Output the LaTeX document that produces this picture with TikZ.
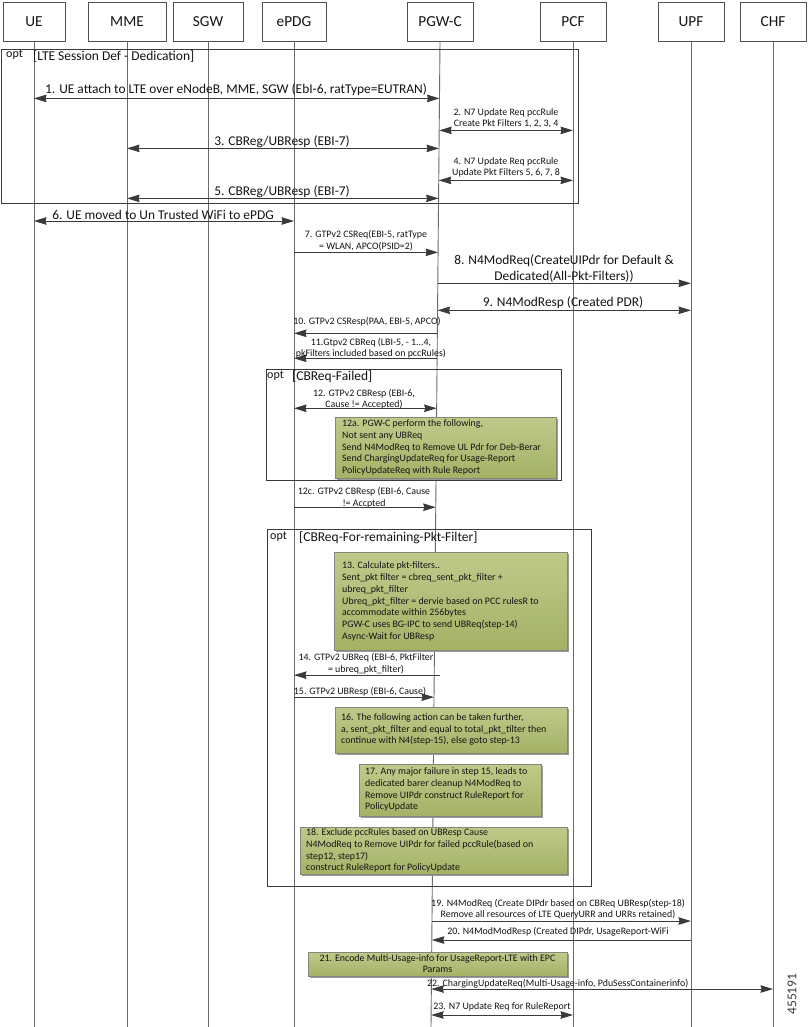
\documentclass[tikz,border=0pt]{standalone}
\usepackage{fontspec}
\setmainfont{Carlito}
\usetikzlibrary{arrows.meta,calc}
\definecolor{arrc}{HTML}{3A3A3A}
\definecolor{lifec}{HTML}{6A6A6A}
\definecolor{framec}{HTML}{3A3A3A}
\definecolor{boxc}{HTML}{505050}
\definecolor{notetop}{RGB}{191,202,138}
\definecolor{notebot}{RGB}{164,178,102}
\definecolor{notedraw}{HTML}{85857A}
\definecolor{noteshadow}{HTML}{9A9A9A}
\definecolor{txtc}{HTML}{141414}
\tikzset{
  actor/.style={draw=boxc, line width=0.9pt, fill=white, minimum height=39pt, inner sep=0pt, font=\fontsize{15.3}{18}\selectfont, text=txtc},
  life/.style={draw=lifec, line width=0.9pt},
  frm/.style={draw=framec, line width=1pt},
  msgline/.style={draw=arrc, line width=0.9pt},
  arr1/.style={msgline, -{Stealth[length=12.5pt,width=7.5pt,inset=1pt]}},
  arr2/.style={msgline, {Stealth[length=12.5pt,width=7.5pt,inset=1pt]}-{Stealth[length=12.5pt,width=7.5pt,inset=1pt]}},
  bl/.style={inner sep=0pt, align=center, text=txtc, font=\fontsize{13.4}{16}\selectfont},
  sl/.style={inner sep=0pt, align=center, text=txtc, font=\fontsize{9.9}{11.5}\selectfont},
  nt/.style={inner sep=0pt, align=left, anchor=west, text=txtc, font=\fontsize{9.9}{11.8}\selectfont},
  optl/.style={inner sep=0pt, anchor=west, text=txtc, font=\fontsize{12}{14}\selectfont},
  frl/.style={inner sep=0pt, anchor=west, text=txtc, font=\fontsize{13.5}{16}\selectfont}
}
\newcommand\notebox[4]{%
  \fill[noteshadow] (#1+2,#2+2) rectangle (#3+2,#4+2);
  \path[draw=notedraw, line width=0.8pt, top color=notetop, bottom color=notebot] (#1,#2) rectangle (#3,#4);}
\begin{document}
\begin{tikzpicture}[x=1pt,y=-1pt]
\useasboundingbox (0,0) rectangle (811,1027);
\fill[white] (0,0) rectangle (811,1027);
% actors
\node[actor, minimum width=62pt] (ue) at (34,21.5) {UE};
\node[actor, minimum width=78pt] (mme) at (127,21.5) {MME};
\node[actor, minimum width=70pt] (sgw) at (208,21.5) {SGW};
\node[actor, minimum width=64pt] (epdg) at (294,21.5) {ePDG};
\node[actor, minimum width=66pt] (pgw) at (440,21.5) {PGW-C};
\node[actor, minimum width=66pt] (pcf) at (573,21.5) {PCF};
\node[actor, minimum width=66pt] (upf) at (691,21.5) {UPF};
\node[actor, minimum width=66pt] (chf) at (773,21.5) {CHF};
% lifelines
\coordinate (bot) at (0,1027);
\coordinate (pgwb) at (431,1027);
\foreach \n in {ue,mme,sgw,epdg,pcf,upf,chf} \draw[life] (\n.south) -- (\n.south |- bot);
\draw[life] (pgw.south) -- (pgwb);
\foreach \y in {98,130,148,180,198,252,283,310,333,358,408,507,675,697,921,940,989,1015}
  \coordinate (g\y) at ($(pgw.south)!{(\y-41)/986}!(pgwb)$);
% frames
\draw[frm] (1,50) rectangle (578,203);
\draw[frm] (266,369) rectangle (561,480);
\draw[frm] (267,529) rectangle (591,886);
\node[optl] (o1) at (6,55) {opt};
\node[frl] (f1) at (33,57) {[LTE Session Def - Dedication]};
\node[optl] (o2) at (267,376) {opt};
\node[frl] (f2) at (292,377) {[CBReq-Failed]};
\node[optl] (o3) at (270,537) {opt};
\node[frl] (f3) at (299,537.5) {[CBReq-For-remaining-Pkt-Filter]};
% messages
\draw[arr2] (ue.south |- g98) -- (g98);
\draw[arr2] (g130) -- (pcf.south |- g130);
\draw[arr2] (mme.south |- g148) -- (g148);
\draw[arr2] (g180) -- (pcf.south |- g180);
\draw[arr2] (mme.south |- g198) -- (g198);
\coordinate (m6) at (0,221);
\draw[arr2] (ue.south |- m6) -- (epdg.south |- m6);
\draw[arr1] (epdg.south |- g252) -- (g252);
\draw[arr1] (g283) -- (upf.south |- g283);
\draw[arr2] (g310) -- (upf.south |- g310);
\draw[arr1] (g333) -- (epdg.south |- g333);
\draw[arr1] (g358) -- (epdg.south |- g358);
\draw[arr2] (epdg.south |- g408) -- (g408);
\draw[arr1] (epdg.south |- g507) -- (g507);
\draw[arr1] ([xshift=6pt]g675) -- (epdg.south |- g675);
\draw[arr1] (epdg.south |- g697) -- (g697);
\draw[arr1] (g921) -- (upf.south |- g921);
\draw[arr1] (upf.south |- g940) -- (g940);
\draw[arr2] (g989) -- (chf.south |- g989);
\draw[arr2] (g1015) -- (pcf.south |- g1015);
% labels
\node[bl] (l1) at (236,90) {1. UE attach to LTE over eNodeB, MME, SGW (EbI-6, ratType=EUTRAN)};
\node[sl] (l2) at (506,118) {2. N7 Update Req pccRule\\Create Pkt Filters 1, 2, 3, 4};
\node[bl] (l3) at (282,142) {3. CBReg/UBResp (EBI-7)};
\node[sl] (l4) at (506,167.5) {4. N7 Update Req pccRule\\Update Pkt Filters 5, 6, 7, 8};
\node[bl] (l5) at (282,192) {5. CBReg/UBResp (EBI-7)};
\node[bl] (l6) at (163,215) {6. UE moved to Un Trusted WiFi to ePDG};
\node[sl] (l7) at (366,240.5) {7. GTPv2 CSReq(EBI-5, ratType\\= WLAN, APCO(PSID=2)};
\node[bl] (l8) at (564,269) {8. N4ModReq(CreateUIPdr for Default \&\\Dedicated(All-Pkt-Filters))};
\node[bl] (l9) at (563,303) {9. N4ModResp (Created PDR)};
\node[sl] (l10) at (367,322) {10. GTPv2 CSResp(PAA, EBI-5, APCO)};
\node[sl] (l11) at (371,348) {11.Gtpv2 CBReq (LBI-5, - 1...4,\\pkFilters included based on pccRules)};
\node[sl] (l12) at (364,399) {12. GTPv2 CBResp (EBI-6,\\Cause != Accepted)};
\node[sl] (l12c) at (364,497.5) {12c. GTPv2 CBResp (EBI-6, Cause\\!= Accpted};
\node[sl] (l14) at (366,663.5) {14. GTPv2 UBReq (EBI-6, PktFilter\\= ubreq\_pkt\_filter)};
\node[sl] (l15) at (360,692) {15. GTPv2 UBResp (EBI-6, Cause)};
\node[sl] (l19) at (558,909) {19. N4ModReq (Create DIPdr based on CBReq UBResp(step-18)\\Remove all resources of LTE QueryURR and URRs retained)};
\node[sl] (l20) at (558,932) {20. N4ModModResp (Created DIPdr, UsageReport-WiFi};
\node[sl, anchor=west] (l22) at (427,984) {22. ChargingUpdateReq(Multi-Usage-info, PduSessContainerinfo)};
\node[sl] (l23) at (502,1007) {23. N7 Update Req for RuleReport};
% notes
\notebox{335}{417}{556}{478}
\node[nt] (t12a) at (342,447.5) {12a. PGW-C perform the following,\\Not sent any UBReq\\Send N4ModReq to Remove UL Pdr for Deb-Berar\\Send ChargingUpdateReq for Usage-Report\\PolicyUpdateReq with Rule Report};
\notebox{334}{552}{567}{650}
\node[nt] (t13) at (342,601.5) {13. Calculate pkt-filters..\\Sent\_pkt filter = cbreq\_sent\_pkt\_filter +\\ubreq\_pkt\_filter\\Ubreq\_pkt\_filter = dervie based on PCC rulesR to\\accommodate within 256bytes\\PGW-C uses BG-IPC to send UBReq(step-14)\\Async-Wait for UBResp};
\notebox{335}{707}{567}{753}
\node[nt] (t16) at (341,729.5) {16. The following action can be taken further,\\a, sent\_pkt\_filter and equal to total\_pkt\_tilter then\\continue with N4(step-15), else goto step-13};
\notebox{359}{764}{541}{816}
\node[nt] (t17) at (365,789.5) {17. Any major failure in step 15, leads to\\dedicated barer cleanup N4ModReq to\\Remove UIPdr construct RuleReport for\\PolicyUpdate};
\notebox{300}{827}{567}{874}
\node[nt] (t18) at (306,850.5) {18. Exclude pccRules based on UBResp Cause\\N4ModReq to Remove UIPdr for failed pccRule(based on\\step12, step17)\\construct RuleReport for PolicyUpdate};
\notebox{308}{952}{567}{976}
\node[nt, anchor=center, align=center, font=\fontsize{9.9}{11}\selectfont] (t21) at (437.5,963.5) {21. Encode Multi-Usage-info for UsageReport-LTE with EPC\\Params};
% figure number
\node[rotate=90, inner sep=0pt, text=arrc, font=\fontsize{13.5}{16}\selectfont] (fig) at (792,994) {455191};
\end{tikzpicture}
\end{document}
